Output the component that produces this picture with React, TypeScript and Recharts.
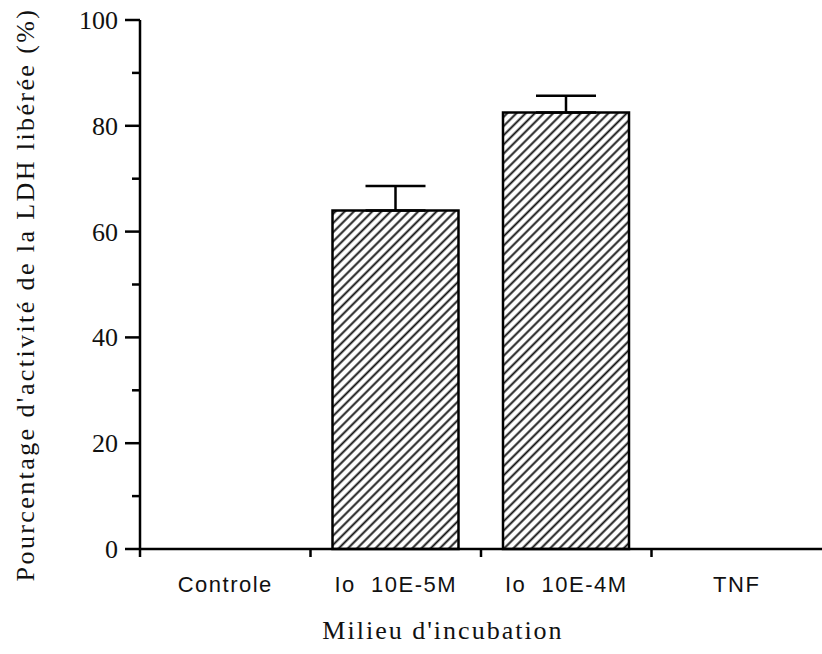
import React from 'react';
import { BarChart, Bar, XAxis, YAxis, ErrorBar, Label } from 'recharts';

const categories = ['Controle', 'Io  10E-5M', 'Io  10E-4M', 'TNF'];
const ldhValues = [0, 64, 82.5, 0];
const ldhErrors: (number | null)[] = [null, 4.6, 3.2, null];
const yTicks = [0, 10, 20, 30, 40, 50, 60, 70, 80, 90, 100];
const yTickLabels = ['0', '', '20', '', '40', '', '60', '', '80', '', '100'];

const data = categories.map((name, i) => ({
  name,
  value: ldhValues[i],
  err: ldhErrors[i] == null ? null : [0, ldhErrors[i]],
}));

const W = 822;
const H = 654;
const LEFT = 140;
const BAND = (W - LEFT) / categories.length;
const serif = '"Liberation Serif", "Times New Roman", serif';
const sans = '"Liberation Sans", Arial, sans-serif';

const XTick = (props: any) => {
  const { x, y, payload } = props;
  return (
    <g>
      <line x1={x - BAND / 2} y1={y} x2={x - BAND / 2} y2={y + 8} stroke="#000" strokeWidth={2.5} />
      <text
        x={x}
        y={y + 43}
        textAnchor="middle"
        fontFamily={sans}
        fontSize={22}
        letterSpacing={1.5}
        fill="#111"
        style={{ whiteSpace: 'pre' }}
      >
        {payload.value}
      </text>
    </g>
  );
};

const YTick = (props: any) => {
  const { x, y, index } = props;
  const label = yTickLabels[index];
  const major = label !== '';
  return (
    <g>
      <line x1={x - (major ? 15 : 8)} y1={y} x2={x} y2={y} stroke="#000" strokeWidth={2.5} />
      {major && (
        <text x={x - 22} y={y} dy={9} textAnchor="end" fontFamily={serif} fontSize={26} fill="#111">
          {label}
        </text>
      )}
    </g>
  );
};

export default function App() {
  return (
    <div style={{ position: 'absolute', left: 0, top: 0, background: '#fff' }}>
      <BarChart width={W} height={H} data={data} margin={{ top: 20, right: 0, left: 0, bottom: 0 }}>
        <defs>
          <pattern id="hatch" patternUnits="userSpaceOnUse" width="6.5" height="6.5" patternTransform="rotate(45)">
            <rect width="6.5" height="6.5" fill="#fff" />
            <line x1="3.25" y1="0" x2="3.25" y2="6.5" stroke="#111" strokeWidth="1.9" />
          </pattern>
        </defs>
        <XAxis
          dataKey="name"
          height={105}
          tick={<XTick />}
          tickLine={false}
          tickSize={0}
          tickMargin={0}
          interval={0}
          axisLine={{ stroke: '#000', strokeWidth: 2.5 }}
        >
          <Label
            content={(p: any) => {
              const vb = p.viewBox;
              return (
                <text
                  x={vb.x + vb.width / 2 - 38}
                  y={639}
                  textAnchor="middle"
                  fontFamily={serif}
                  fontSize={26}
                  letterSpacing={2}
                  fill="#111"
                >
                  Milieu d'incubation
                </text>
              );
            }}
          />
        </XAxis>
        <YAxis
          width={LEFT}
          domain={[0, 100]}
          ticks={yTicks}
          interval={0}
          tick={<YTick />}
          tickLine={false}
          tickSize={0}
          tickMargin={0}
          axisLine={{ stroke: '#000', strokeWidth: 2.5 }}
        >
          <Label
            content={(p: any) => {
              const vb = p.viewBox;
              const cy = vb.y + vb.height / 2 + 10;
              return (
                <text
                  x={25}
                  y={cy}
                  transform={`rotate(-90, 25, ${cy})`}
                  textAnchor="middle"
                  dominantBaseline="central"
                  fontFamily={serif}
                  fontSize={26}
                  letterSpacing={2.4}
                  fill="#111"
                >
                  Pourcentage d'activité de la LDH libérée (%)
                </text>
              );
            }}
          />
        </YAxis>
        <Bar dataKey="value" barSize={126} fill="url(#hatch)" stroke="#000" strokeWidth={2.5} isAnimationActive={false}>
          <ErrorBar dataKey="err" width={30} stroke="#000" strokeWidth={2.5} isAnimationActive={false} />
        </Bar>
      </BarChart>
    </div>
  );
}
